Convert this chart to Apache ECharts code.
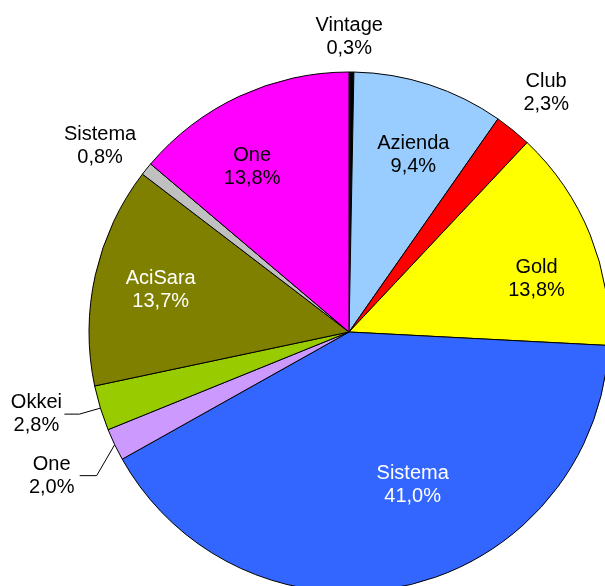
<!DOCTYPE html>
<html>
<head>
<meta charset="utf-8">
<script src="https://cdn.jsdelivr.net/npm/echarts@6/dist/echarts.min.js"></script>
<style>
  html, body { margin: 0; padding: 0; background: #fff; }
  #chart { width: 605px; height: 586px; }
</style>
</head>
<body>
<div id="chart"></div>
<script>
// slices, clockwise from 12 o'clock
var sliceNames  = ['Vintage', 'Azienda', 'Club', 'Gold', 'Sistema', 'One', 'Okkei', 'AciSara', 'Sistema', 'One'];
var sliceValues = [0.3, 9.4, 2.3, 13.8, 41.0, 2.0, 2.8, 13.7, 0.8, 13.8];

var sliceColors = ['#000000', '#99CCFF', '#FF0000', '#FFFF00', '#3366FF', '#CC99FF', '#99CC00', '#808000', '#C0C0C0', '#FF00FF'];
var textColors  = ['#000', '#000', '#000', '#000', '#fff', '#000', '#000', '#fff', '#000', '#000'];
// label distance from centre (px) and angle shift (deg); null = label with leader line
var labelPlace  = [[295, -0.5], [188, 2], [310, 0.4], [195, 6], [166, -9.4], null, null, [193, 0], [311, -2], [191, -5.6]];
// leader line bends: [dx, dy] of the elbow from the pie edge, then horizontal run
var leaderBend  = { 5: [-18, 31, -17], 6: [-21, 6, -15] };

var cx = 349, cy = 332, R = 260;

function pct(v) {
  return v.toFixed(1).replace('.', ',') + '%';
}

var seriesData = sliceNames.map(function (n, i) {
  var item = {
    name: n,
    value: sliceValues[i],
    itemStyle: { color: sliceColors[i] },
    label: { color: textColors[i] }
  };
  if (labelPlace[i]) {
    item.label.position = 'inside';
    item.labelLine = { show: false };
  } else {
    item.label.position = 'outside';
    item.label.formatter = function (p) { return '{t|' + p.name + '}\n{t|' + pct(p.value) + '}'; };
    item.labelLine = { show: true, length: 15, length2: 15 };
  }
  return item;
});

var chart = echarts.init(document.getElementById('chart'));
chart.setOption({
  animation: false,
  backgroundColor: '#fff',
  textStyle: { fontFamily: 'Liberation Sans, Arial, sans-serif' },
  series: [{
    type: 'pie',
    center: [cx, cy],
    radius: R,
    startAngle: 90,
    clockwise: true,
    avoidLabelOverlap: false,
    silent: true,
    itemStyle: { borderColor: '#000', borderWidth: 1 },
    label: {
      show: true,
      fontSize: 20,
      lineHeight: 23,
      fontFamily: 'Liberation Sans, Arial, sans-serif',
      distanceToLabelLine: 3,
      formatter: function (p) { return p.name + '\n' + pct(p.value); },
      rich: {
        t: { width: 50, align: 'center', fontSize: 20, lineHeight: 23, fontFamily: 'Liberation Sans, Arial, sans-serif' }
      }
    },
    labelLine: { lineStyle: { color: '#000', width: 1 }, smooth: false },
    labelLayout: function (p) {
      var place = labelPlace[p.dataIndex];
      if (!place) {
        var b = leaderBend[p.dataIndex];
        var p0 = p.labelLinePoints[0];
        var p1 = [p0[0] + b[0], p0[1] + b[1]];
        var p2 = [p1[0] + b[2], p1[1]];
        return { x: p2[0] - 3, y: p2[1], labelLinePoints: [p0, p1, p2] };
      }
      var lx = p.labelRect.x + p.labelRect.width / 2;
      var ly = p.labelRect.y + p.labelRect.height / 2;
      var a = Math.atan2(lx - cx, cy - ly) + place[1] * Math.PI / 180;
      return { x: cx + place[0] * Math.sin(a), y: cy - place[0] * Math.cos(a) };
    },
    data: seriesData
  }]
});
</script>
</body>
</html>
